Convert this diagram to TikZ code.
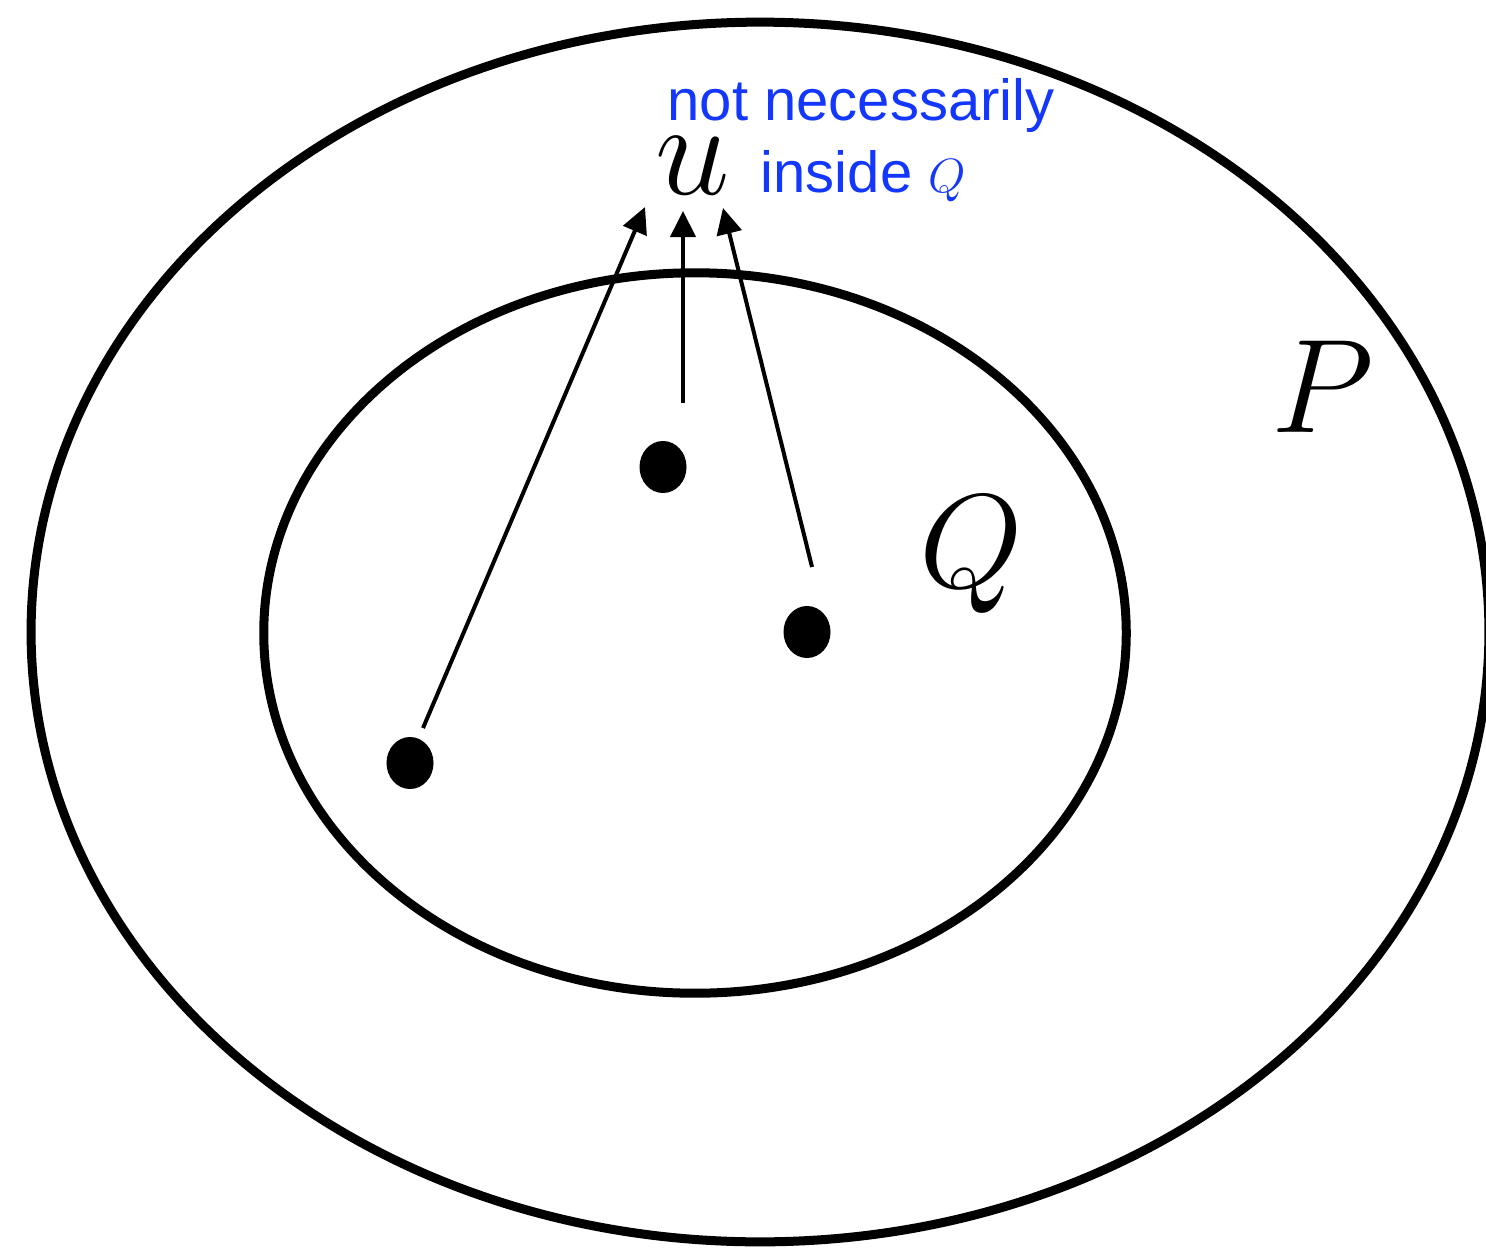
\RequirePackage{fix-cm}
\documentclass[tikz,border=0pt]{standalone}
\usepackage{fontspec}
\newfontfamily\notefont{Liberation Sans}
\usetikzlibrary{arrows.meta, shapes.geometric}
\definecolor{noteblue}{RGB}{20,55,255}
\tikzset{
    region/.style={ellipse, draw=black, line width=0.09cm, inner sep=0pt},
    pt/.style={ellipse, fill=black, inner sep=0pt, minimum width=0.47cm, minimum height=0.52cm},
    symb/.style={inner sep=0pt, font=\fontsize{38}{40}\selectfont},
    note/.style={inner sep=0pt, text=noteblue, font=\notefont\fontsize{16.5}{20}\selectfont},
    move/.style={-{Triangle[length=0.26cm, width=0.25cm]}, line width=0.04cm}
}

\begin{document}
\begin{tikzpicture}[x=0.01cm, y=-0.01cm]
  \useasboundingbox (0,0) rectangle (1486,1249);
  \node[region, minimum width=14.57cm, minimum height=12.19cm] (P) at (760,632) {};
  \node[region, minimum width=8.62cm, minimum height=7.20cm] (Q) at (695,633) {};

  \node[pt] (d1) at (663,467) {};
  \node[pt] (d2) at (807,632) {};
  \node[pt] (d3) at (410,763) {};

  \node[symb] (u) at (693,166) {$u$};
  \node[symb] (lblP) at (1323,387) {$P$};
  \node[symb] (lblQ) at (971,555) {$Q$};
  \node[note, anchor=base west] (note1) at (667,121) {not necessarily};
  \node[note, anchor=base west] (note2) at (760,193) {inside {\fontsize{13.7}{16}\selectfont$Q$}};

  \coordinate (s1) at (423,728);
  \coordinate (t1) at (645,207);
  \coordinate (s2) at (683,403);
  \coordinate (t2) at (683,211);
  \coordinate (s3) at (812,567);
  \coordinate (t3) at (723,208);
  \draw[move] (s1) -- (t1);
  \draw[move] (s2) -- (t2);
  \draw[move] (s3) -- (t3);
\end{tikzpicture}
\end{document}
